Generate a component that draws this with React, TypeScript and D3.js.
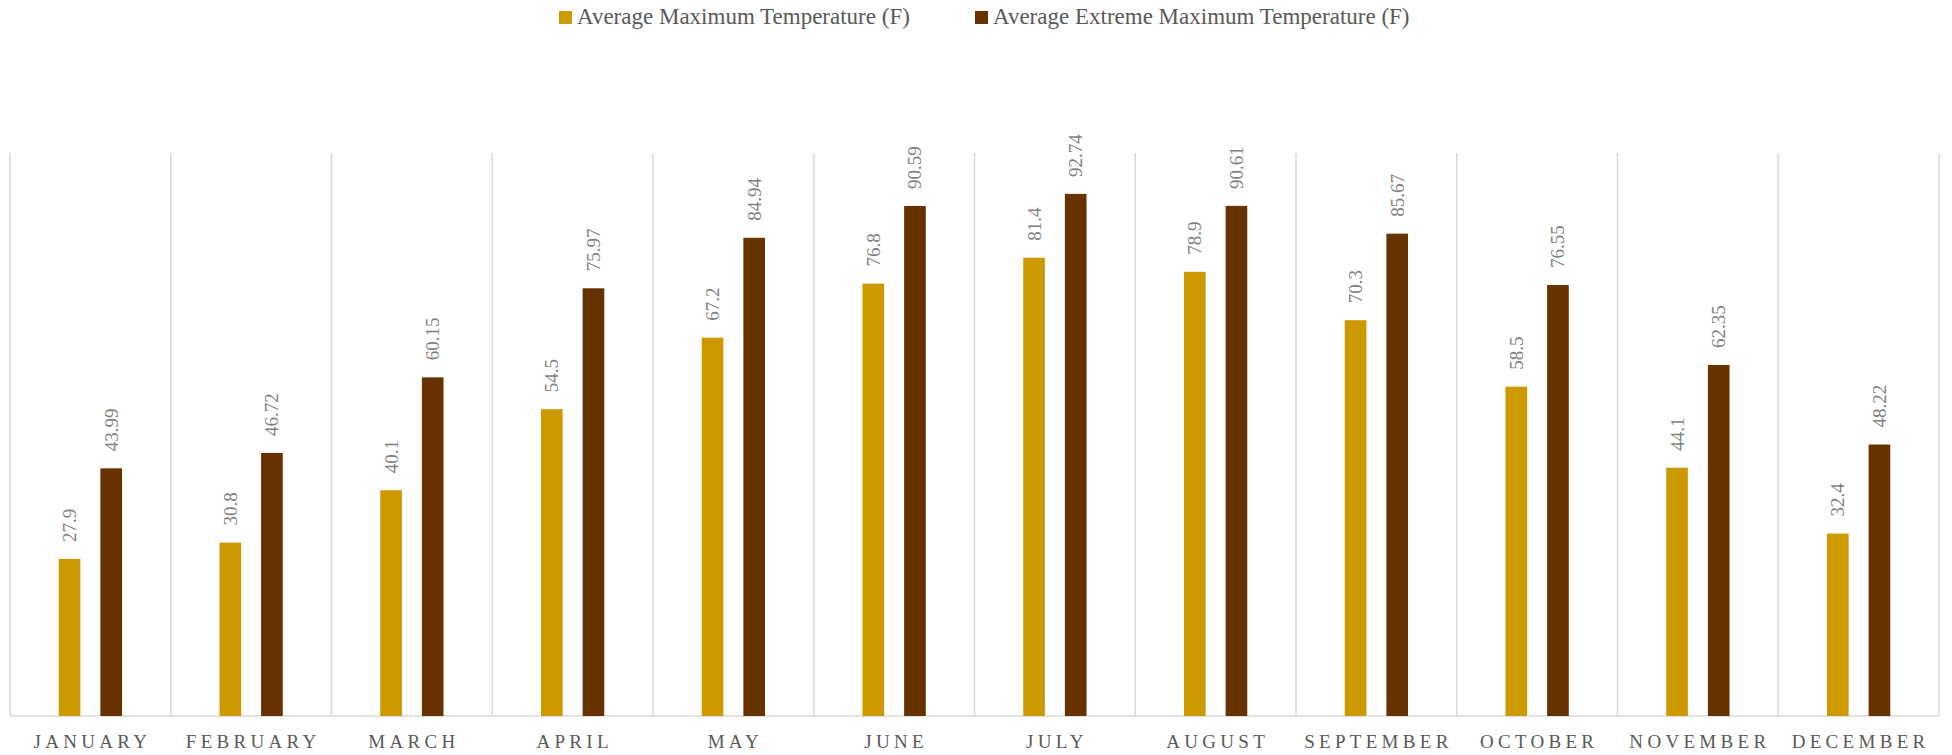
import React from "react";
import * as d3 from "d3";

const months = ["JANUARY","FEBRUARY","MARCH","APRIL","MAY","JUNE","JULY","AUGUST","SEPTEMBER","OCTOBER","NOVEMBER","DECEMBER"];
const seriesNames = ["Average Maximum Temperature (F)", "Average Extreme Maximum Temperature (F)"];
const avgMax = [27.9, 30.8, 40.1, 54.5, 67.2, 76.8, 81.4, 78.9, 70.3, 58.5, 44.1, 32.4];
const avgExtremeMax = [43.99, 46.72, 60.15, 75.97, 84.94, 90.59, 92.74, 90.61, 85.67, 76.55, 62.35, 48.22];
const colors = ["#CC9900", "#663300"];

const W = 1952, H = 755;
const left = 10, right = 1939, top = 153, bottom = 716;
const FONT = "'Liberation Serif', 'DejaVu Serif', serif";

export default function App() {
  const x0 = d3.scaleBand<string>().domain(months).range([left, right]).paddingInner(0).paddingOuter(0);
  const x1 = d3.scaleBand<string>().domain(seriesNames).range([0, x0.bandwidth()]).paddingInner(0.48).paddingOuter(1.17);
  const y = d3.scaleLinear().domain([0, 100]).range([bottom, top]);
  const series = [avgMax, avgExtremeMax];
  const boundaries = d3.range(months.length + 1).map(i => left + i * x0.step());
  const fmt = (v: number) => String(v);

  const legendItems = [
    { x: 559, name: seriesNames[0], color: colors[0] },
    { x: 975, name: seriesNames[1], color: colors[1] },
  ];

  return (
    <svg width={W} height={H} style={{ position: "absolute", left: 0, top: 0, display: "block", background: "#fff" }}>
      {boundaries.map((bx, i) => (
        <line key={"g" + i} x1={bx} x2={bx} y1={top} y2={bottom} stroke="#d9d9d9" strokeWidth={1.5} />
      ))}
      <line x1={left} x2={right} y1={bottom} y2={bottom} stroke="#d9d9d9" strokeWidth={1.5} />
      {months.map((m, i) => (
        <g key={m}>
          {series.map((s, si) => {
            const bx = (x0(m) as number) + (x1(seriesNames[si]) as number);
            const bw = x1.bandwidth();
            const by = y(s[i]);
            const cx = bx + bw / 2;
            const ly = by - 17;
            return (
              <g key={si}>
                <rect x={bx} y={by} width={bw} height={bottom - by} fill={colors[si]} />
                <text
                  x={cx}
                  y={ly}
                  transform={`rotate(-90, ${cx}, ${ly})`}
                  textAnchor="start"
                  dominantBaseline="central"
                  fontFamily={FONT}
                  fontSize={19}
                  fill="#7f7f7f"
                >
                  {fmt(s[i])}
                </text>
              </g>
            );
          })}
          <text
            x={(x0(m) as number) + x0.bandwidth() / 2 + 2}
            y={748}
            textAnchor="middle"
            fontFamily={FONT}
            fontSize={19}
            letterSpacing={4.3}
            fill="#595959"
          >
            {m}
          </text>
        </g>
      ))}
      {legendItems.map((it) => (
        <g key={it.name}>
          <rect x={it.x} y={11} width={13} height={13} fill={it.color} />
          <text x={it.x + 18} y={24} fontFamily={FONT} fontSize={23} fill="#595959">
            {it.name}
          </text>
        </g>
      ))}
    </svg>
  );
}
